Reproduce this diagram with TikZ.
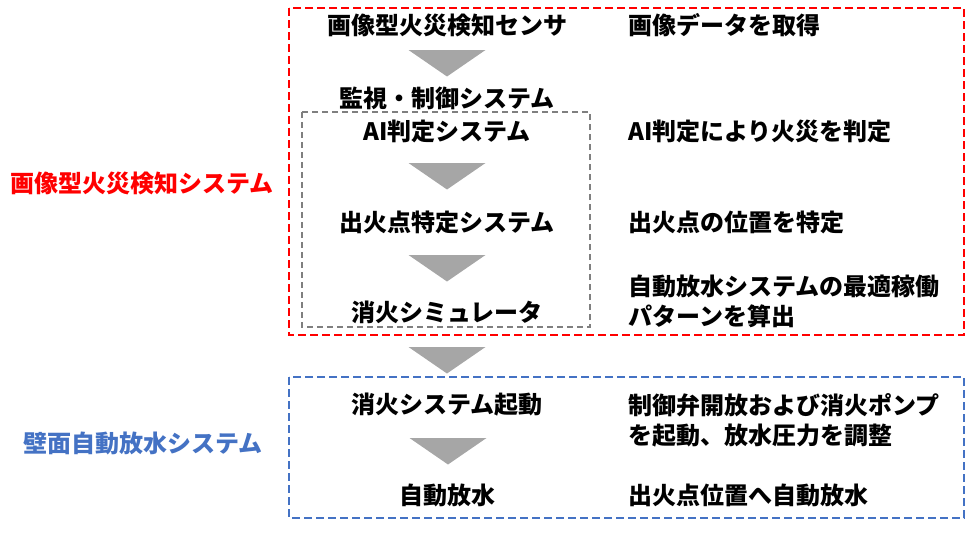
\documentclass[tikz,border=0pt]{standalone}
\usepackage{fontspec}
\setmainfont{Noto Sans CJK JP}
\usetikzlibrary{positioning}
\definecolor{fred}{HTML}{FF0000}
\definecolor{fblue}{HTML}{4472C4}
\definecolor{fgray}{HTML}{7F7F7F}
\definecolor{tri}{HTML}{A6A6A6}
\tikzset{
  txt/.style={inner sep=0pt, font=\fontsize{24}{30}\selectfont\bfseries, text=black},
  mid/.style={txt, anchor=center},
  rgt/.style={txt, anchor=west, align=left},
  frame/.style={line width=1.6pt, dash pattern=on 8pt off 4pt},
  tridown/.style={fill=tri, draw=none},
}
\newcommand{\tridn}[2]{\fill[tridown] (#1-38.5,#2) -- (#1+38.5,#2) -- (#1,#2+26.5) -- cycle;}
\begin{document}
\begin{tikzpicture}[x=1pt,y=-1pt]
\useasboundingbox (0,0) rectangle (975,533);
% frames
\draw[frame, fred] (289,8) rectangle (964,335);
\draw[frame, fgray, line width=1.3pt, dash pattern=on 6pt off 4pt] (302,112) rectangle (590,327);
\draw[frame, fblue] (289,377) rectangle (964,518);
% left labels
\node[txt, anchor=west, text=fred] (lab1) at (10,183) {画像型火災検知システム};
\node[txt, anchor=center, text=fblue] (lab2) at (143,443) {壁面自動放水システム};
% center column
\node[mid] (s1) at (447,25) {画像型火災検知センサ};
\node[mid] (s2) at (447,98) {監視・制御システム};
\node[mid] (s3) at (447,131) {AI判定システム};
\node[mid] (s4) at (447,222) {出火点特定システム};
\node[mid] (s5) at (447,312) {消火シミュレータ};
\node[mid] (s6) at (447,405) {消火システム起動};
\node[mid] (s7) at (447,495) {自動放水};
% triangles
\tridn{447}{50}
\tridn{447}{163}
\tridn{447}{255}
\tridn{447}{347}
\tridn{448}{438}
% right column
\node[rgt] (r1) at (628,25) {画像データを取得};
\node[rgt] (r2) at (628,131) {AI判定により火災を判定};
\node[rgt] (r3) at (628,222) {出火点の位置を特定};
\node[rgt] (r4) at (628,301) {自動放水システムの最適稼働\\パターンを算出};
\node[rgt] (r5) at (628,420) {制御弁開放および消火ポンプ\\を起動、放水圧力を調整};
\node[rgt] (r6) at (628,495) {出火点位置へ自動放水};
\end{tikzpicture}
\end{document}
